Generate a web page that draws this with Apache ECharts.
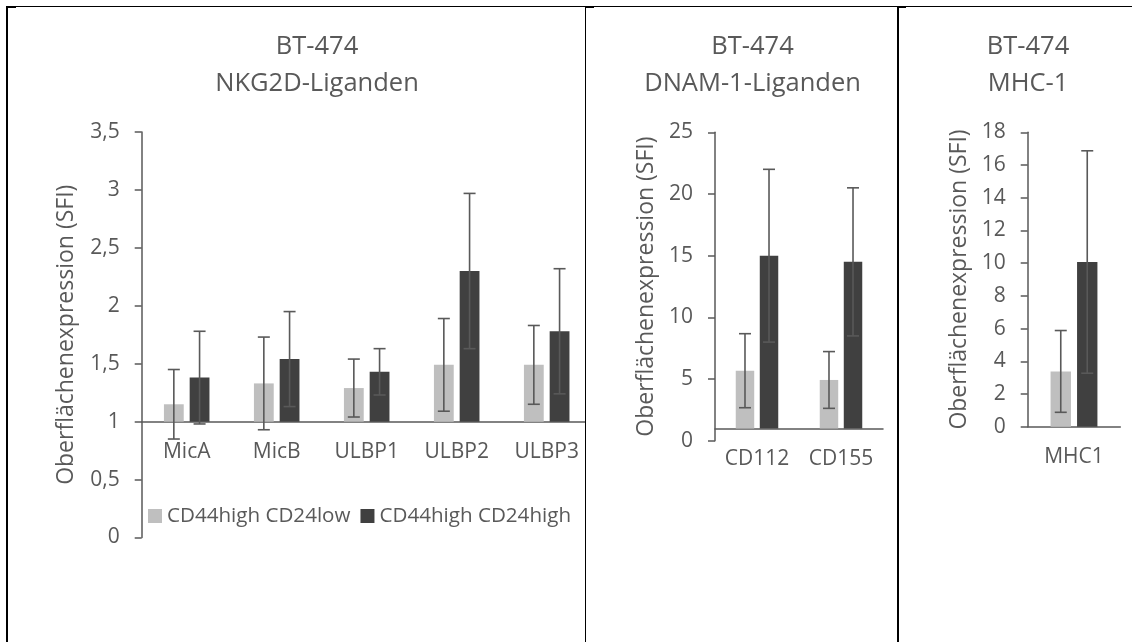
<!DOCTYPE html>
<html>
<head>
<meta charset="utf-8">
<script src="https://cdn.jsdelivr.net/npm/echarts@6/dist/echarts.min.js"></script>
<style>
  html, body { margin: 0; padding: 0; background: #fff; }
  #chart { width: 1132px; height: 642px; }
</style>
</head>
<body>
<div id="chart"></div>
<script>
// ---------- data ----------
const seriesNames = ['CD44high CD24low', 'CD44high CD24high'];

const cats1 = ['MicA', 'MicB', 'ULBP1', 'ULBP2', 'ULBP3'];
const low1 = [1.15, 1.33, 1.29, 1.49, 1.49];
const lowErr1 = [0.30, 0.40, 0.25, 0.40, 0.34];
const high1 = [1.38, 1.54, 1.43, 2.30, 1.78];
const highErr1 = [0.40, 0.41, 0.20, 0.67, 0.54];

const cats2 = ['CD112', 'CD155'];
const low2 = [5.68, 4.93];
const lowErr2 = [3.0, 2.3];
const high2 = [15.0, 14.5];
const highErr2 = [7.0, 6.0];

const cats3 = ['MHC1'];
const low3 = [3.38];
const lowErr3 = [2.5];
const high3 = [10.07];
const highErr3 = [6.8];

const yTicks1 = { min: 0, max: 3.5, interval: 0.5, base: 1 };
const yTicks2 = { min: 0, max: 25, interval: 5, base: 1 };
const yTicks3 = { min: 0, max: 18, interval: 2, base: 0 };

const titles = ['BT-474\nNKG2D-Liganden', 'BT-474\nDNAM-1-Liganden', 'BT-474\nMHC-1'];
const yName = 'Oberflächenexpression (SFI)';

// ---------- style ----------
const FONT = 'Open Sans';
const TXT = '#595959';
const AX = '#595959';
const ERR = '#595959';
const COLORS = ['#BFBFBF', '#404040'];
const BAR_W = 0.22, BAR_GAP = 0.3, CAP = 6;

const grids = [
  { left: 141.7, top: 132, width: 450, height: 405.5, nameGap: 63.5, titleX: 317 },
  { left: 715, top: 132.3, width: 168, height: 308.5, nameGap: 57.5, titleX: 752.5 },
  { left: 1027.7, top: 132.3, width: 92.6, height: 294.4, nameGap: 56.7, titleX: 1028 }
];

const panels = [
  { cats: cats1, low: low1, lowErr: lowErr1, high: high1, highErr: highErr1, ax: yTicks1 },
  { cats: cats2, low: low2, lowErr: lowErr2, high: high2, highErr: highErr2, ax: yTicks2 },
  { cats: cats3, low: low3, lowErr: lowErr3, high: high3, highErr: highErr3, ax: yTicks3 }
];

function errRender(side) {
  return function (params, api) {
    const i = api.value(0), m = api.value(1), e = api.value(2);
    const band = api.size([1, 0])[0];
    const w = band * BAR_W;
    const x = api.coord([i, m])[0] + side * (w + w * BAR_GAP) / 2;
    const yT = api.coord([i, m + e])[1];
    const yB = api.coord([i, m - e])[1];
    const st = { stroke: ERR, lineWidth: 1.6 };
    return {
      type: 'group',
      children: [
        { type: 'line', shape: { x1: x, y1: yT, x2: x, y2: yB }, style: st },
        { type: 'line', shape: { x1: x - CAP, y1: yT, x2: x + CAP, y2: yT }, style: st },
        { type: 'line', shape: { x1: x - CAP, y1: yB, x2: x + CAP, y2: yB }, style: st }
      ]
    };
  };
}

const gridOpt = [], xAxes = [], yAxes = [], series = [], titleOpt = [];

panels.forEach(function (p, k) {
  const g = grids[k];
  gridOpt.push({ left: g.left, top: g.top, width: g.width, height: g.height,
                 containLabel: false, outerBoundsMode: 'none' });
  titleOpt.push({
    text: titles[k], left: g.titleX, top: 27.8, textAlign: 'center', padding: 0,
    textStyle: { fontFamily: FONT, fontSize: 25.5, lineHeight: 37, color: TXT, fontWeight: 'normal' }
  });
  const off = -g.height * (p.ax.base - p.ax.min) / (p.ax.max - p.ax.min);
  xAxes.push({
    gridIndex: k, type: 'category', data: p.cats, position: 'bottom', offset: off,
    axisLine: { show: true, onZero: false, lineStyle: { color: AX, width: 1.5 } },
    axisTick: { show: false },
    axisLabel: { margin: 20, color: TXT, fontSize: 21, fontFamily: FONT, interval: 0 },
    splitLine: { show: false }
  });
  yAxes.push({
    gridIndex: k, type: 'value', min: p.ax.min, max: p.ax.max, interval: p.ax.interval,
    name: yName, nameLocation: 'middle', nameGap: g.nameGap,
    nameTextStyle: { fontFamily: FONT, fontSize: 23, color: TXT },
    axisLine: { show: true, onZero: false, lineStyle: { color: AX, width: 1.5 } },
    axisTick: { show: true, length: 7, lineStyle: { color: AX, width: 1.5 } },
    splitLine: { show: false },
    axisLabel: { margin: 22, color: TXT, fontSize: 21, fontFamily: FONT,
                 formatter: function (v) { return String(v).replace('.', ','); } }
  });

  const groups = [[p.low, p.lowErr], [p.high, p.highErr]];
  groups.forEach(function (gr, s) {
    const vals = gr[0];
    const stack = 'p' + k + 's' + s;
    if (p.ax.base !== 0) {
      series.push({
        type: 'bar', name: '_base' + stack, xAxisIndex: k, yAxisIndex: k, stack: stack,
        barWidth: '22%', barGap: '30%', silent: true,
        itemStyle: { color: 'rgba(0,0,0,0)' },
        data: vals.map(function () { return p.ax.base; })
      });
    }
    series.push({
      type: 'bar', name: seriesNames[s], xAxisIndex: k, yAxisIndex: k,
      stack: p.ax.base !== 0 ? stack : undefined,
      barWidth: '22%', barGap: '30%',
      itemStyle: { color: COLORS[s] },
      data: vals.map(function (v) { return v - p.ax.base; })
    });
  });
  groups.forEach(function (gr, s) {
    series.push({
      type: 'custom', name: '_err' + k + s, xAxisIndex: k, yAxisIndex: k,
      renderItem: errRender(s === 0 ? -1 : 1),
      encode: { x: 0, y: 1 }, z: 5, silent: true,
      data: gr[0].map(function (v, i) { return [i, v, gr[1][i]]; })
    });
  });
});

const B = '#000';
const graphic = [
  { type: 'rect', z: 100, shape: { x: 586, y: 414, width: 10, height: 16 }, style: { fill: '#fff' } },
  { type: 'rect', z: 101, shape: { x: 6, y: 6, width: 1126, height: 1 }, style: { fill: B } },
  { type: 'rect', z: 101, shape: { x: 6, y: 6, width: 2, height: 636 }, style: { fill: B } },
  { type: 'rect', z: 101, shape: { x: 585, y: 6, width: 1, height: 636 }, style: { fill: B } },
  { type: 'rect', z: 101, shape: { x: 897, y: 6, width: 2, height: 636 }, style: { fill: B } },
  { type: 'rect', z: 101, shape: { x: 6, y: 6, width: 10, height: 2 }, style: { fill: B } },
  { type: 'rect', z: 101, shape: { x: 585, y: 6, width: 9, height: 2 }, style: { fill: B } },
  { type: 'rect', z: 101, shape: { x: 897, y: 6, width: 9, height: 2 }, style: { fill: B } }
];

const chart = echarts.init(document.getElementById('chart'), null, { renderer: 'canvas' });
chart.setOption({
  animation: false,
  backgroundColor: '#fff',
  title: titleOpt,
  legend: {
    data: seriesNames, left: 148, top: 505.5, padding: 0, orient: 'horizontal',
    itemWidth: 14, itemHeight: 14, itemGap: 10, icon: 'rect',
    textStyle: { fontFamily: FONT, fontSize: 20.6, color: TXT }
  },
  grid: gridOpt,
  xAxis: xAxes,
  yAxis: yAxes,
  series: series,
  graphic: graphic
});
</script>
</body>
</html>
